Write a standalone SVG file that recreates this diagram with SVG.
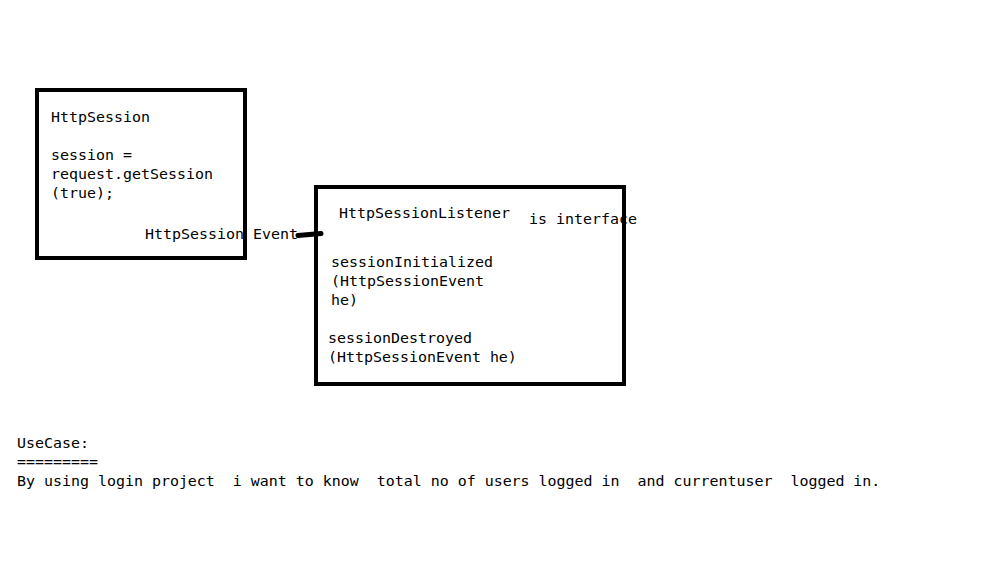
<svg xmlns="http://www.w3.org/2000/svg" width="1000" height="561" viewBox="0 0 1000 561">
<style>
text{font-family:"DejaVu Sans Mono","Liberation Mono",monospace;font-size:14.95px;fill:#000}
.box{fill:none;stroke:#000;stroke-width:4}
</style>
<rect x="0" y="0" width="1000" height="561" fill="#fff"/>
<g id="httpSession">
<text x="51" y="122">HttpSession</text>
<text x="51" y="160">session =</text>
<text x="51" y="179">request.getSession</text>
<text x="51" y="198">(true);</text>
<text x="145" y="239">HttpSession Event</text>
<rect class="box" x="37" y="90" width="208" height="168"/>
</g>
<g id="httpSessionListener">
<text x="339" y="218">HttpSessionListener</text>
<text x="529" y="224">is interface</text>
<text x="331" y="267">sessionInitialized</text>
<text x="331" y="286">(HttpSessionEvent</text>
<text x="331" y="305">he)</text>
<text x="328" y="343">sessionDestroyed</text>
<text x="328" y="362">(HttpSessionEvent he)</text>
<rect class="box" x="316" y="187" width="308" height="197"/>
</g>
<g id="connectors">
<line x1="298" y1="235.5" x2="321" y2="233.5" stroke="#000" stroke-width="5" stroke-linecap="round"/>
</g>
<g id="usecase">
<text x="17" y="448">UseCase:</text>
<text x="17" y="467">=========</text>
<text x="17" y="486" xml:space="preserve">By using login project  i want to know  total no of users logged in  and currentuser  logged in.</text>
</g>
</svg>
